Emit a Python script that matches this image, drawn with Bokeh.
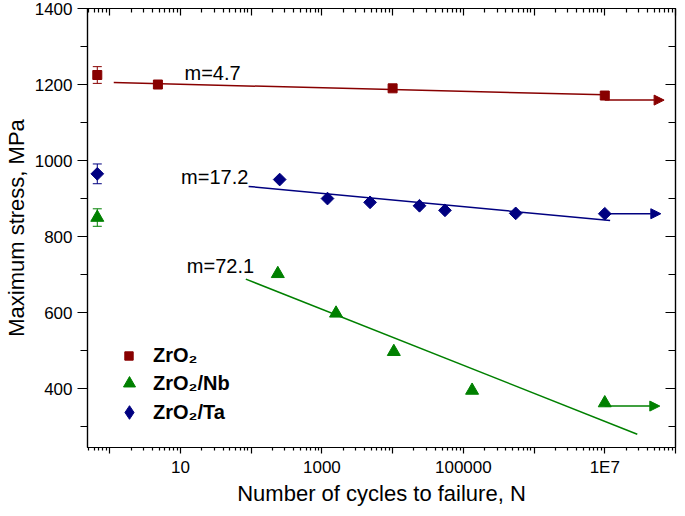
import numpy as np
from bokeh.plotting import figure
from bokeh.models import (ColumnDataSource, Whisker, TeeHead, Arrow, NormalHead, FixedTicker,
                          LinearAxis, LogAxis, Range1d, Legend, LegendItem)
from bokeh.embed import file_html
from bokeh.resources import INLINE
from bokeh.core.properties import value

# ---------------- data ----------------
series_names = ["ZrO₂", "ZrO₂/Nb", "ZrO₂/Ta"]

zr_n = [0.667, 4.8, 1.0e4, 1.0e7]
zr_s = [1225, 1200, 1190, 1171]
nb_n = [0.667, 238, 1585, 1.04e4, 1.33e5, 1.0e7]
nb_s = [850, 702, 598, 497, 395, 362]
ta_n = [0.667, 253, 1200, 4800, 24000, 55000, 5.5e5, 1.0e7]
ta_s = [965, 950, 900, 890, 881, 869, 861, 860]

# static strength error bars (ZrO2, ZrO2/Nb, ZrO2/Ta)
static_n = [0.667, 0.667, 0.667]
static_s = [1225, 850, 965]
static_err = [22, 23, 26]

zr_fit_n = [1.14, 1.0e7]
zr_fit_s = [1205, 1173]
nb_fit_n = [84, 2.88e7]
nb_fit_s = [688, 280]
ta_fit_n = [92, 1.19e7]
ta_fit_s = [932, 842]

# run-out arrows (ZrO2, ZrO2/Nb, ZrO2/Ta)
runout_n0 = [1.0e7, 1.0e7, 1.0e7]
runout_n1 = [6.9e7, 6.0e7, 6.2e7]
runout_s = [1159, 354, 860]

m_text = ["m=4.7", "m=72.1", "m=17.2"]
m_n = [11.4, 12.3, 10.2]
m_s = [1230, 722, 956]

x_major = [1, 10, 100, 1000, 10000, 100000, 1000000, 10000000, 100000000]
x_labels = ["", "10", "", "1000", "", "100000", "", "1E7", ""]
y_major = [400, 600, 800, 1000, 1200, 1400]
y_minor = [300, 500, 700, 900, 1100, 1300]

colors = ["#880000", "#008000", "#000080"]
FONT = "Liberation Sans"

# ---------------- figure ----------------
p = figure(width=677, height=508, x_axis_type="log",
           x_range=Range1d(0.485, 1.0e8), y_range=Range1d(245, 1400),
           output_backend="svg", toolbar_location=None,
           min_border_left=87, min_border_right=2, min_border_top=8, min_border_bottom=60)
p.xgrid.visible = False
p.ygrid.visible = False
p.outline_line_color = "black"
p.outline_line_width = 1.2

x_minor = [k * 10.0 ** e for e in range(-1, 8) for k in range(2, 10)]
xt = FixedTicker(ticks=x_major, minor_ticks=x_minor)
yt = FixedTicker(ticks=y_major, minor_ticks=y_minor)

xa = p.xaxis[0]
xa.ticker = xt
xa.major_label_overrides = {t: lab for t, lab in zip(x_major, x_labels)}
xa.axis_label = "Number of cycles to failure, N"
ya = p.yaxis[0]
ya.ticker = yt
ya.axis_label = "Maximum stress, MPa"

for ax in (xa, ya):
    ax.axis_line_width = 1.2
    ax.major_tick_line_width = 1.2
    ax.minor_tick_line_width = 1.2
    ax.major_label_text_font = FONT
    ax.major_label_text_font_size = "17px"
    ax.major_label_text_color = "black"
    ax.axis_label_text_font = FONT
    ax.axis_label_text_font_size = "22px"
    ax.axis_label_text_font_style = "normal"
    ax.axis_label_text_color = "black"

xa.major_tick_in = 0
xa.major_tick_out = 6
xa.minor_tick_in = 0
xa.minor_tick_out = 3
xa.major_label_standoff = 4
xa.axis_label_standoff = 1

ya.major_tick_in = 0
ya.major_tick_out = 10
ya.minor_tick_in = 0
ya.minor_tick_out = 7
ya.major_label_standoff = 5
ya.axis_label_standoff = 3

top = LogAxis(ticker=xt, major_tick_in=7, major_tick_out=0, minor_tick_in=4, minor_tick_out=0,
              major_label_overrides={t: "" for t in x_major}, major_label_standoff=0,
              axis_line_width=1.2, major_tick_line_width=1.2, minor_tick_line_width=1.2)
p.add_layout(top, "above")
right = LinearAxis(ticker=yt, major_tick_in=10, major_tick_out=0, minor_tick_in=7, minor_tick_out=0,
                   major_label_overrides={t: "" for t in y_major}, major_label_standoff=0,
                   axis_line_width=1.2, major_tick_line_width=1.2, minor_tick_line_width=1.2)
p.add_layout(right, "right")

# ---------------- fit lines ----------------
for fn, fs, c in ((zr_fit_n, zr_fit_s, colors[0]), (nb_fit_n, nb_fit_s, colors[1]),
                  (ta_fit_n, ta_fit_s, colors[2])):
    p.line(fn, fs, line_color=c, line_width=1.5)

# ---------------- run-out arrows ----------------
for x0, x1, y, c in zip(runout_n0, runout_n1, runout_s, colors):
    p.add_layout(Arrow(x_start=x0, y_start=y, x_end=x1, y_end=y,
                       line_color=c, line_width=1.5,
                       end=NormalHead(size=10, fill_color=c, line_color=c)))

# ---------------- error bars ----------------
err_src = ColumnDataSource(dict(x=static_n, lo=[s - e for s, e in zip(static_s, static_err)],
                                hi=[s + e for s, e in zip(static_s, static_err)], c=colors))
p.add_layout(Whisker(source=err_src, base="x", lower="lo", upper="hi", dimension="height",
                     line_color="c", line_width=1,
                     upper_head=TeeHead(size=9, line_color="c", line_width=1),
                     lower_head=TeeHead(size=9, line_color="c", line_width=1)))

# ---------------- markers ----------------
r_zr = p.scatter(zr_n, zr_s, marker="square", size=9, fill_color=colors[0], line_color=colors[0])
r_nb = p.scatter(nb_n, nb_s, marker="triangle", size=13, fill_color=colors[1], line_color=colors[1])
r_ta = p.scatter(ta_n, ta_s, marker="square", size=9, angle=np.pi / 4,
                 fill_color=colors[2], line_color=colors[2])
# legend-only glyph for the diamond (legend markers are not rotated)
r_ta_leg = p.scatter(ta_n[:1], ta_s[:1], marker="diamond", size=13,
                     fill_color=colors[2], line_color=colors[2], visible=False)

# ---------------- slope labels ----------------
p.text(x=m_n, y=m_s, text=m_text, text_font=value(FONT), text_font_size="20px",
       text_color="black", text_align="left", text_baseline="middle")

# ---------------- legend (one per entry so each marker gets its own size) ----------------
leg_specs = [(series_names[0], r_zr, 21, (31, 80), 14),
             (series_names[1], r_nb, 30, (27, 49), 9),
             (series_names[2], r_ta_leg, 34, (25, 18), 7)]
for lab, rend, g, loc, so in leg_specs:
    p.add_layout(Legend(items=[LegendItem(label=lab, renderers=[rend])],
                        location=loc, padding=0, margin=0, spacing=0,
                        glyph_width=g, glyph_height=g, label_height=g, label_standoff=so,
                        label_text_font=FONT, label_text_font_size="20px",
                        label_text_font_style="bold", label_text_color="black",
                        border_line_alpha=0, background_fill_alpha=0))

open("out.html", "w").write(file_html(p, INLINE))
